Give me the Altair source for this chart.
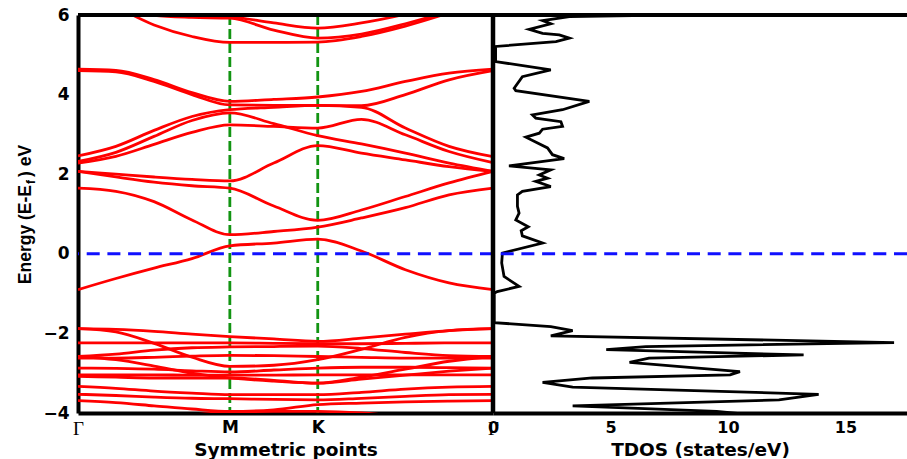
import altair as alt
import pandas as pd

# ---------------- data ----------------
K_POS = [0.0, 0.577, 0.911, 1.577]
K_LABELS = ["Γ", "M", "K", "Γ"]
K_SAMPLES = [0.0, 0.144, 0.289, 0.433, 0.577, 0.744, 0.911, 1.077, 1.244, 1.41, 1.577]

E_TICKS = [-4, -2, 0, 2, 4, 6]
DOS_TICKS = [0, 5, 10, 15]

C1 = [-0.9, -0.62, -0.36, -0.12, 0.2, 0.27, 0.37, 0.07, -0.4, -0.73, -0.9]
C2 = [1.65, 1.57, 1.31, 0.85, 0.48, 0.56, 0.67, 0.9, 1.16, 1.48, 1.65]
C3 = [2.07, 2.0, 1.93, 1.87, 1.83, 2.28, 2.72, 2.53, 2.36, 2.19, 2.07]
C4 = [2.07, 1.93, 1.8, 1.71, 1.65, 1.2, 0.84, 1.1, 1.44, 1.78, 2.07]
B5 = [2.28, 2.45, 2.75, 3.05, 3.24, 3.2, 3.16, 3.38, 2.99, 2.57, 2.29]
B6 = [2.32, 2.55, 2.95, 3.35, 3.54, 3.27, 2.97, 2.76, 2.53, 2.28, 2.07]
B7 = [2.46, 2.7, 3.1, 3.45, 3.62, 3.68, 3.73, 3.68, 3.16, 2.7, 2.44]
B8 = [4.6, 4.57, 4.33, 4.0, 3.74, 3.73, 3.73, 3.72, 4.0, 4.37, 4.6]
B9 = [4.64, 4.61, 4.38, 4.05, 3.83, 3.88, 3.94, 4.08, 4.33, 4.54, 4.64]
U1 = [6.6, 6.2, 5.75, 5.46, 5.31, 5.31, 5.32, 5.46, 5.72, 6.05, 6.4]
U2 = [6.8, 6.4, 5.99, 5.94, 5.92, 5.62, 5.42, 5.52, 5.78, 6.1, 6.5]
U3 = [7.0, 6.6, 6.2, 6.02, 5.96, 5.8, 5.67, 5.8, 6.02, 6.3, 6.6]
V1 = [-1.88, -1.9, -1.95, -2.02, -2.08, -2.14, -2.2, -2.12, -2.02, -1.93, -1.88]
V2 = [-1.88, -1.96, -2.25, -2.6, -2.83, -2.8, -2.66, -2.4, -2.1, -1.93, -1.88]
V3 = [-2.24, -2.24, -2.24, -2.24, -2.24, -2.25, -2.26, -2.26, -2.25, -2.24, -2.24]
V4 = [-2.58, -2.52, -2.42, -2.36, -2.34, -2.33, -2.32, -2.38, -2.48, -2.56, -2.58]
V5 = [-2.62, -2.62, -2.6, -2.57, -2.55, -2.56, -2.58, -2.6, -2.62, -2.62, -2.62]
V6 = [-2.87, -2.88, -2.9, -2.94, -2.97, -2.92, -2.87, -2.85, -2.85, -2.86, -2.87]
V7 = [-2.58, -2.66, -2.82, -3.0, -3.12, -3.2, -3.25, -3.1, -2.9, -2.7, -2.58]
V8 = [-3.04, -3.04, -3.04, -3.05, -3.05, -3.05, -3.04, -3.04, -3.04, -3.04, -3.04]
V9 = [-3.08, -3.1, -3.12, -3.12, -3.12, -3.18, -3.25, -3.15, -3.05, -2.95, -2.87]
V10 = [-3.33, -3.38, -3.45, -3.5, -3.54, -3.54, -3.54, -3.48, -3.4, -3.35, -3.33]
V11 = [-3.53, -3.56, -3.6, -3.63, -3.64, -3.66, -3.67, -3.63, -3.58, -3.54, -3.53]
V12 = [-3.69, -3.74, -3.82, -3.9, -3.96, -3.92, -3.79, -3.75, -3.72, -3.7, -3.69]
V13 = [-4.3, -4.25, -4.15, -4.05, -3.98, -3.96, -3.96, -4.0, -4.1, -4.2, -4.3]

BANDS = {
    "C1": C1, "C2": C2, "C3": C3, "C4": C4, "B5": B5, "B6": B6, "B7": B7,
    "B8": B8, "B9": B9, "U1": U1, "U2": U2, "U3": U3,
    "V1": V1, "V2": V2, "V3": V3, "V4": V4, "V5": V5, "V6": V6, "V7": V7,
    "V8": V8, "V9": V9, "V10": V10, "V11": V11, "V12": V12, "V13": V13,
}

TDOS_E = [6.02, 5.96, 5.86, 5.78, 5.64, 5.54, 5.50, 5.42, 5.33, 5.21, 4.83, 4.62,
          4.45, 4.16, 4.10, 3.83, 3.62, 3.49, 3.41, 3.32, 3.20, 3.13, 3.03, 2.93,
          2.66, 2.49, 2.39, 2.21, 2.11, 1.98, 1.90, 1.82, 1.69, 1.57, 1.48, 1.19,
          1.02, 0.85, 0.68, 0.58, 0.45, 0.27, 0.02, -0.23, -0.57, -0.82, -0.95,
          -0.99, -1.73, -1.83, -1.93, -2.06, -2.23, -2.33, -2.41, -2.54, -2.62,
          -2.73, -2.96, -3.04, -3.12, -3.23, -3.35, -3.53, -3.67, -3.82, -3.96, -4.1]
TDOS_VAL = [10.0, 3.25, 2.11, 2.46, 1.54, 2.11, 2.82, 3.25, 2.68, 0.11, 0.11, 2.46,
            1.25, 0.9, 0.97, 4.1, 2.96, 1.68, 1.82, 2.89, 2.96, 2.11, 1.97, 1.4,
            2.32, 2.53, 3.03, 0.68, 2.46, 1.97, 2.32, 1.82, 2.46, 1.25, 1.04, 1.04,
            1.11, 0.97, 1.5, 1.2, 1.25, 2.11, 0.4, 0.37, 0.47, 1.11, 0.18,
            0.05, 0.05, 2.46, 3.39, 2.46, 17.07, 6.5, 4.82, 13.22, 6.64,
            5.81, 10.51, 10.09, 4.23, 2.11, 3.39, 13.86, 12.17, 3.39, 9.52, 12.0]

Y_TITLE = ["Energy (E-E", "f", ") eV"]
X_TITLE = "Symmetric points"
DOS_TITLE = "TDOS (states/eV)"

# ---------------- tables ----------------
rows = []
for name, vals in BANDS.items():
    for k, e in zip(K_SAMPLES, vals):
        rows.append({"band": name, "k": k, "E": e})
bands_df = pd.DataFrame(rows)
tdos_df = pd.DataFrame({"i": list(range(len(TDOS_E))), "E": TDOS_E, "dos": TDOS_VAL})

W_LEFT = 415
W_TOTAL = 829
H = 398

def k_scale():
    return alt.Scale(domain=[K_POS[0], K_POS[-1]], range=[0, W_LEFT], nice=False, zero=False)

dos_scale = alt.Scale(domain=[0, 17.62], range=[W_LEFT, W_TOTAL], nice=False, zero=False)
e_scale = alt.Scale(domain=[-4, 6], nice=False, zero=False)

label_expr = "''"
for p, l in reversed(list(zip(K_POS, K_LABELS))):
    label_expr = f"datum.value == {p} ? '{l}' : ({label_expr})"
gamma_test = " || ".join(f"datum.value == {p}" for p, l in zip(K_POS, K_LABELS) if l == "Γ")

SANS = "DejaVu Sans"

y_axis = alt.Axis(values=E_TICKS, title=None, ticks=False, domainWidth=4, domainColor="black",
                  labelFontSize=17, labelFont=SANS, labelFontWeight="bold", labelPadding=9,
                  grid=False, labelColor="black")

k_axis = alt.Axis(values=K_POS, labelExpr=label_expr, title=X_TITLE, orient="bottom",
                  ticks=False, domainWidth=4, domainColor="black", labelFlush=False,
                  labelOverlap=False, labelPadding=6,
                  labelFontSize={"condition": {"test": gamma_test, "value": 19}, "value": 17},
                  labelFont={"condition": {"test": gamma_test, "value": "Liberation Serif"}, "value": SANS},
                  labelFontWeight={"condition": {"test": gamma_test, "value": "normal"}, "value": "bold"},
                  labelColor="black", titleFont=SANS, titleFontSize=18.5, titleFontWeight="bold",
                  titleColor="black", titleY=27, titleBaseline="top", grid=False)

dos_axis = alt.Axis(values=DOS_TICKS, title=DOS_TITLE, orient="bottom", ticks=False,
                    domainWidth=4, domainColor="black", labelFlush=False, labelOverlap=False,
                    labelPadding=6, labelFontSize=16, labelFont=SANS, labelFontWeight="bold",
                    labelColor="black", titleFont=SANS, titleFontSize=18.5, titleFontWeight="bold",
                    titleColor="black", titleY=27, titleBaseline="top", grid=False)

vlines = alt.Chart(pd.DataFrame({"k": K_POS[1:3]})).mark_rule(
    color="#129412", strokeWidth=2.8, strokeDash=[10, 4]
).encode(x=alt.X("k:Q", scale=k_scale(), axis=None))

bands = alt.Chart(bands_df).mark_line(
    color="#ff0000", strokeWidth=2.8, interpolate="monotone", clip=True
).encode(
    x=alt.X("k:Q", scale=k_scale(), axis=k_axis),
    y=alt.Y("E:Q", scale=e_scale, axis=y_axis),
    detail="band:N",
)

tdos = alt.Chart(tdos_df).mark_line(color="black", strokeWidth=2.8, clip=True).encode(
    x=alt.X("dos:Q", scale=dos_scale, axis=dos_axis),
    y=alt.Y("E:Q", scale=e_scale, axis=y_axis),
    order=alt.Order("i:Q"),
)

hline = alt.Chart(pd.DataFrame({"E": [0]})).mark_rule(
    color="#1010ff", strokeWidth=3, strokeDash=[13, 7.7]
).encode(y=alt.Y("E:Q", scale=e_scale, axis=y_axis))

top_rule = alt.Chart(pd.DataFrame({"E": [6]})).mark_rule(color="black", strokeWidth=4).encode(
    y=alt.Y("E:Q", scale=e_scale, axis=y_axis))

mid_rule = alt.Chart(pd.DataFrame({"k": [K_POS[-1]]})).mark_rule(color="black", strokeWidth=4.5).encode(
    x=alt.X("k:Q", scale=k_scale(), axis=None))

t1 = alt.Chart(pd.DataFrame({"t": [Y_TITLE[0]]})).mark_text(
    angle=270, align="right", baseline="alphabetic", font="Liberation Sans", fontWeight="bold",
    fontSize=17.5, color="black"
).encode(text="t:N", x=alt.value(-47), y=alt.value(170))
t2 = alt.Chart(pd.DataFrame({"t": [Y_TITLE[1]]})).mark_text(
    angle=270, align="left", baseline="alphabetic", font="Liberation Sans", fontWeight="bold",
    fontSize=12, color="black"
).encode(text="t:N", x=alt.value(-43), y=alt.value(169))
t3 = alt.Chart(pd.DataFrame({"t": [Y_TITLE[2]]})).mark_text(
    angle=270, align="left", baseline="alphabetic", font="Liberation Sans", fontWeight="bold",
    fontSize=17.5, color="black"
).encode(text="t:N", x=alt.value(-47), y=alt.value(162))

chart = alt.layer(vlines, bands, tdos, hline, top_rule, mid_rule, t1, t2, t3).resolve_scale(
    x="independent"
).properties(
    width=W_TOTAL, height=H,
    autosize=alt.AutoSizeParams(type="none"),
    padding={"left": 78, "top": 15, "right": 0, "bottom": 46},
).configure_view(strokeWidth=0).configure(background="white")

chart.save("out.html", embed_options={"renderer": "svg", "actions": False})
